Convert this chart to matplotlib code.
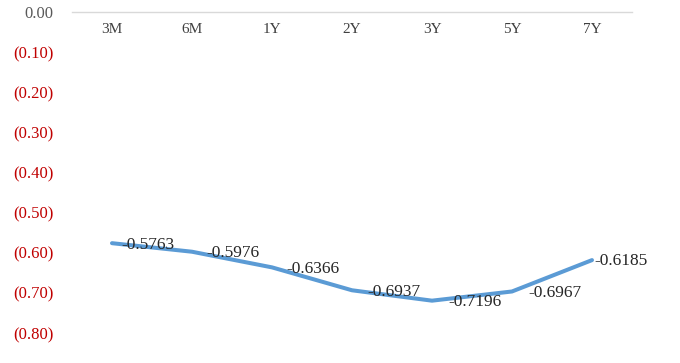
import matplotlib.pyplot as plt

tenors = ['3M', '6M', '1Y', '2Y', '3Y', '5Y', '7Y']
values = [-0.5763, -0.5976, -0.6366, -0.6937, -0.7196, -0.6967, -0.6185]
y_ticks = [0.0, -0.1, -0.2, -0.3, -0.4, -0.5, -0.6, -0.7, -0.8]

plt.rcParams['font.family'] = ['Liberation Serif', 'DejaVu Serif']

fig = plt.figure(figsize=(6.8, 3.63), dpi=100)
ax = fig.add_axes([72 / 680, 1 - 361 / 363, 560 / 680, 349 / 363])

x = list(range(len(tenors)))
ax.plot(x, values, color='#5B9BD5', lw=2.9, solid_capstyle='round')

# data labels sit right of the points (last one nudged close, like the original)
label_dx = [7, 10, 10, 11, 12, 12, 2]
label_dy = [-1, -1, -1, -1, -1, -1, -1]
for xi, v, dx, dy in zip(x, values, label_dx, label_dy):
    ax.annotate('%.4f' % v, (xi, v), xytext=(dx, dy), textcoords='offset points',
                ha='left', va='center', fontsize=12.5, color='#262626')

ax.set_xlim(-0.5, len(tenors) - 0.5)
ax.set_ylim(-0.87, 0)
ax.set_xticks(x)
ax.set_xticklabels(tenors)
ax.tick_params(axis='x', top=False, bottom=False, labeltop=True, labelbottom=False,
               pad=-21, labelsize=11, labelcolor='#404040')

ax.set_yticks(y_ticks)
ylabels = []
for t in y_ticks:
    if t == 0:
        ylabels.append('0.00')
    else:
        ylabels.append('(%.2f)' % abs(t))
ax.set_yticklabels(ylabels)
ax.tick_params(axis='y', left=False, pad=10, labelsize=12)
for lab, t in zip(ax.get_yticklabels(), y_ticks):
    lab.set_color('#595959' if t == 0 else '#C00000')

for s in ['left', 'right', 'bottom']:
    ax.spines[s].set_visible(False)
ax.spines['top'].set_color('#D9D9D9')
ax.spines['top'].set_linewidth(1)

fig.savefig('out.png', dpi=100)
